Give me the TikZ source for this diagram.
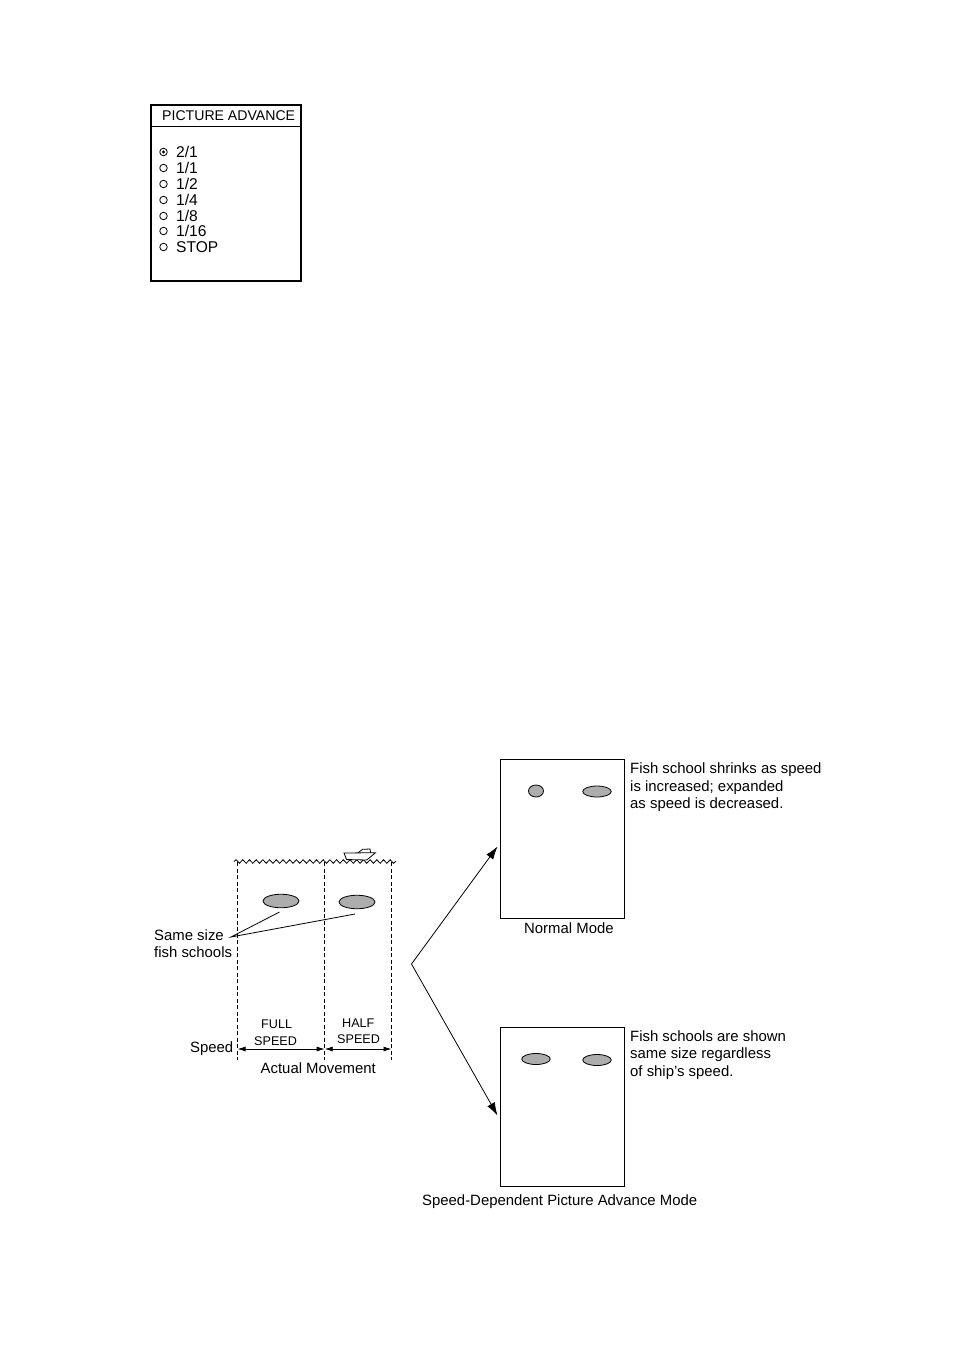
\documentclass[tikz,border=0pt]{standalone}
\usepackage{fontspec}
\setmainfont{Liberation Sans}
\usetikzlibrary{arrows.meta}
\usetikzlibrary{shapes.geometric}
\usetikzlibrary{decorations.pathmorphing}

\tikzset{
    lab/.style={anchor=base west, inner sep=0pt, font=\fontsize{14.9}{16}\selectfont},
    menulab/.style={anchor=base west, inner sep=0pt, font=\fontsize{15.6}{16}\selectfont},
    smalllab/.style={anchor=base west, inner sep=0pt, font=\fontsize{12.6}{14}\selectfont},
    fish/.style={draw, ellipse, fill=black!32, line width=0.8pt, inner sep=0pt},
    radio/.style={circle, draw, line width=0.8pt, minimum size=7.5pt, inner sep=0pt},
    depth/.style={dashed, dash pattern=on 4pt off 2.5pt, line width=0.9pt},
    screen/.style={draw, line width=0.9pt},
    speedarrow/.style={{Latex[length=8pt,width=5pt]}-{Latex[length=8pt,width=5pt]}, line width=0.8pt},
    modearrow/.style={-{Latex[length=13pt,width=8.5pt]}, line width=0.8pt}
}

\begin{document}
\begin{tikzpicture}[x=1pt, y=-1pt]
    \useasboundingbox (0,0) rectangle (954,1351);

    % Menu
    \draw[line width=1.6pt] (151,105) rectangle (301,281);
    \draw[line width=1pt] (151,127) -- (301,127);
    \node[lab, font=\fontsize{14.1}{16}\selectfont] (menutitle) at (162,120.5) {PICTURE ADVANCE};
    \foreach \i/\y/\lab in {1/152/{2/1}, 2/168/{1/1}, 3/184/{1/2}, 4/200/{1/4}, 5/216/{1/8}, 6/231/{1/16}, 7/247/{STOP}} {
        \node[radio] (radio\i) at (163.5,\y) {};
        \node[menulab] (item\i) at (176,\y+5.3) {\lab};
    }
    \fill (radio1) circle (1.7pt);

    % Sea surface
    \draw[line width=0.8pt, decorate, decoration={snake, segment length=6.7pt, amplitude=1.8pt}] (234,861.5) -- (396,861.5);

    % Boat
    \draw[line width=0.8pt, fill=white] (344,853) -- (375.5,852.7) -- (366.7,860) -- (346.5,859.5) -- cycle;
    \draw[line width=0.8pt] (358,852.7) -- (362.7,849.3) -- (370,849) -- (370.7,852.7);

    % Depth lines
    \foreach \x in {237.3, 324.7, 391.5} {
        \draw[depth] (\x,862) -- (\x,1060);
    }

    % Fish schools
    \node[fish, minimum width=36pt, minimum height=13.5pt] (fishfull) at (281,901) {};
    \node[fish, minimum width=36pt, minimum height=13.5pt] (fishhalf) at (357,902) {};

    % Leader lines
    \coordinate (leader) at (231,937);
    \coordinate (leadfull) at (279.5,912);
    \coordinate (leadhalf) at (355,914);
    \draw[line width=0.8pt] (leadfull) -- (leader) -- (leadhalf);
    \node[lab] (same) at (154,940) {Same size};
    \node[lab] (schools) at (154,957) {fish schools};

    % Speed
    \coordinate (speedA) at (237.5,1049);
    \coordinate (speedB) at (324.7,1049);
    \coordinate (speedC) at (391.5,1049);
    \draw[speedarrow] (speedA) -- (speedB);
    \draw[speedarrow] (speedB) -- (speedC);
    \node[lab] (speed) at (190,1052) {Speed};
    \node[smalllab] (full) at (261,1028) {FULL};
    \node[smalllab] (fullspeed) at (254,1045) {SPEED};
    \node[smalllab] (half) at (342,1027) {HALF};
    \node[smalllab] (halfspeed) at (337,1043) {SPEED};
    \node[lab] (actual) at (260.5,1073) {Actual Movement};

    % Arrows to the modes
    \coordinate (fork) at (411.5,964);
    \coordinate (tonormal) at (497.5,846.5);
    \coordinate (toadvance) at (497.5,1115.5);
    \draw[modearrow] (fork) -- (tonormal);
    \draw[modearrow] (fork) -- (toadvance);

    % Normal mode
    \draw[screen] (500.7,759) rectangle (624.5,918);
    \node[fish, minimum width=15pt, minimum height=12pt] (fishN1) at (536,791) {};
    \node[fish, minimum width=28.5pt, minimum height=11pt] (fishN2) at (597,791.5) {};
    \node[lab] (normal) at (524,933) {Normal Mode};
    \node[lab] (noteN1) at (630,773) {Fish school shrinks as speed};
    \node[lab] (noteN2) at (630,791) {is increased; expanded};
    \node[lab] (noteN3) at (630,808) {as speed is decreased.};

    % Picture advance mode
    \draw[screen] (500.7,1027) rectangle (624.5,1186);
    \node[fish, minimum width=28.5pt, minimum height=11pt] (fishA1) at (536,1059) {};
    \node[fish, minimum width=28.5pt, minimum height=11pt] (fishA2) at (597,1060) {};
    \node[lab] (advance) at (422,1205) {Speed-Dependent Picture Advance Mode};
    \node[lab] (noteA1) at (630,1041) {Fish schools are shown};
    \node[lab] (noteA2) at (630,1058) {same size regardless};
    \node[lab] (noteA3) at (630,1076) {of ship’s speed.};
\end{tikzpicture}
\end{document}
